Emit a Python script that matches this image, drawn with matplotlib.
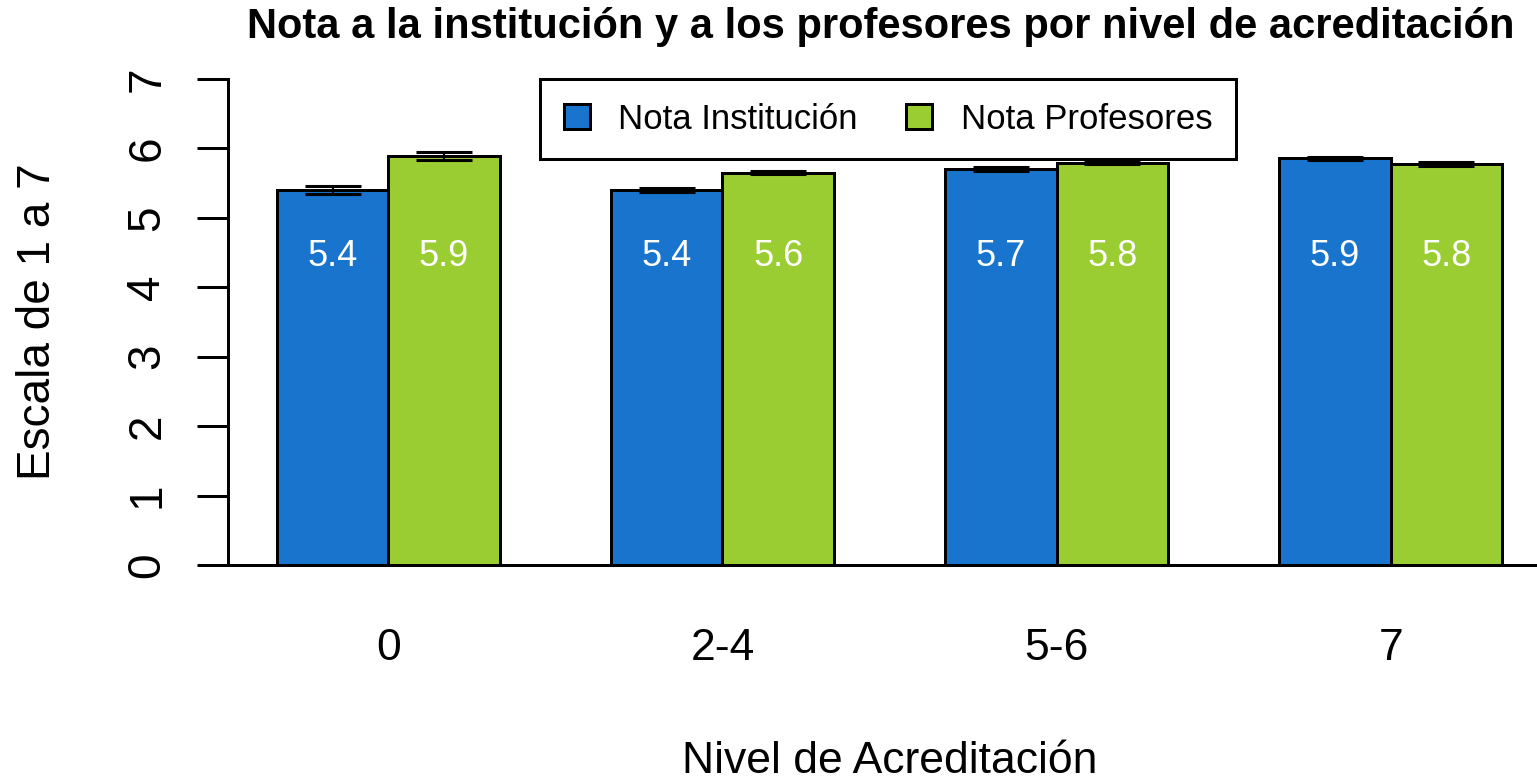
import matplotlib
matplotlib.use("Agg")
import matplotlib.pyplot as plt
import numpy as np
from matplotlib.patches import Patch

plt.rcParams['font.family'] = ['Liberation Sans', 'DejaVu Sans']

categories = ["0", "2-4", "5-6", "7"]
nota_institucion = [5.40, 5.40, 5.70, 5.86]
nota_profesores = [5.89, 5.65, 5.79, 5.78]
err_institucion = [0.06, 0.03, 0.03, 0.02]
err_profesores = [0.06, 0.02, 0.02, 0.03]
labels_institucion = ["5.4", "5.4", "5.7", "5.9"]
labels_profesores = ["5.9", "5.6", "5.8", "5.8"]
series_names = ["Nota Institución", "Nota Profesores"]
title = "Nota a la institución y a los profesores por nivel de acreditación"

W, H = 1537, 779
fig = plt.figure(figsize=(W / 100, H / 100), dpi=100)

# axes placement in pixels (R barplot default xlim with 4% extension)
x0_px, x1_px = 228, 1551
y0_px, y7_px = 565, 79
ax = fig.add_axes([x0_px / W, (H - y0_px) / H, (x1_px - x0_px) / W, (y0_px - y7_px) / H])
ax.set_xlim(0.56, 12.44)
ax.set_ylim(0, 7)

blue = "#1874CD"
green = "#9ACD32"
lw = 2.16

n = len(categories)
left_inst = np.array([1 + 3 * i for i in range(n)], dtype=float)
left_prof = left_inst + 1
ax.bar(left_inst, nota_institucion, width=1, align='edge', color=blue, edgecolor='black', linewidth=lw, zorder=2)
ax.bar(left_prof, nota_profesores, width=1, align='edge', color=green, edgecolor='black', linewidth=lw, zorder=2)

ax.errorbar(left_inst + 0.5, nota_institucion, yerr=err_institucion, fmt='none', ecolor='black',
            elinewidth=1.5, capsize=20.5, capthick=2.2, zorder=3)
ax.errorbar(left_prof + 0.5, nota_profesores, yerr=err_profesores, fmt='none', ecolor='black',
            elinewidth=1.5, capsize=20.5, capthick=2.2, zorder=3)

for xi, lab in zip(left_inst + 0.5, labels_institucion):
    ax.text(xi, 4.44, lab, color='white', ha='center', va='center', fontsize=26, zorder=4)
for xi, lab in zip(left_prof + 0.5, labels_profesores):
    ax.text(xi, 4.44, lab, color='white', ha='center', va='center', fontsize=26, zorder=4)

# axes styling
for s in ['top', 'right']:
    ax.spines[s].set_visible(False)
ax.spines['left'].set_linewidth(lw)
ax.spines['bottom'].set_linewidth(lw)
ax.spines['left'].set_bounds(0, 7)

ax.set_yticks(range(0, 8))
ax.set_yticklabels([str(v) for v in range(0, 8)], rotation=90, va='center', fontsize=33)
ax.tick_params(axis='y', length=22.3, width=lw, pad=20)

ax.set_xticks(left_inst + 1)
ax.set_xticklabels(categories, fontsize=32)
ax.tick_params(axis='x', length=0, pad=45)

ax.set_ylabel("Escala de 1 a 7", fontsize=33, labelpad=47)
ax.set_xlabel("Nivel de Acreditación", fontsize=32, labelpad=52)

fig.text(881 / W, 1 - 27 / H, title, ha='center', va='center', fontsize=30, fontweight='bold')

handles = [Patch(facecolor=blue, edgecolor='black', linewidth=lw),
           Patch(facecolor=green, edgecolor='black', linewidth=lw)]
leg = ax.legend(handles, series_names, loc='upper center', ncol=2,
                bbox_to_anchor=(888 / W, 1 - 79 / H), bbox_transform=fig.transFigure,
                fontsize=25, frameon=True, fancybox=False, framealpha=1,
                handlelength=0.75, handleheight=0.75, handletextpad=0.83,
                columnspacing=1.38, borderpad=0.68, borderaxespad=0)
leg.get_frame().set_edgecolor('black')
leg.get_frame().set_linewidth(lw)

fig.savefig("out.png", dpi=100)
